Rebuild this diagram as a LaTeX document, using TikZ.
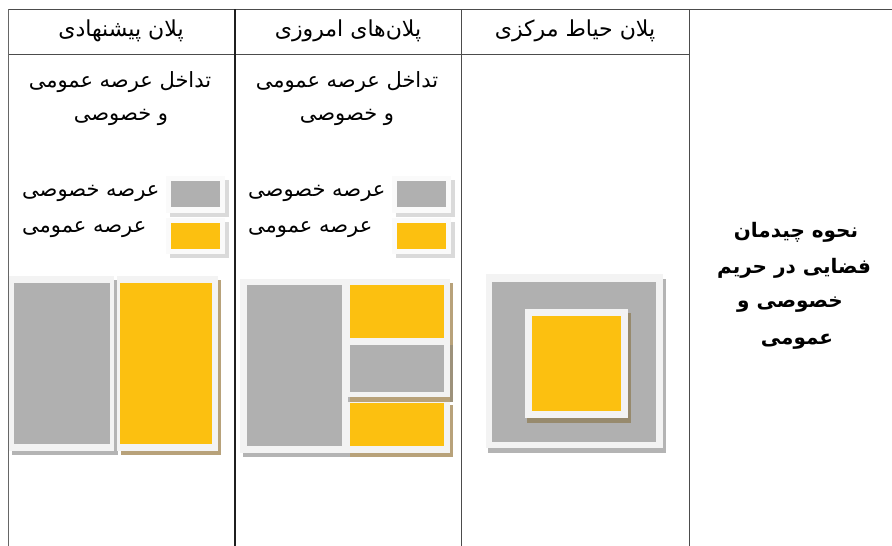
\documentclass[tikz,border=0pt]{standalone}
\usepackage{fontspec}
\TeXXeTstate=1
\newfontfamily\arabicfont[Script=Arabic]{DejaVu Sans}
\definecolor{plangray}{HTML}{B0B0B0}
\definecolor{planyellow}{HTML}{FCC010}
\definecolor{planframe}{HTML}{F3F3F3}
\definecolor{shadgray}{HTML}{B4B4B4}
\definecolor{shadbrown}{HTML}{B8A27A}
\definecolor{shaddark}{HTML}{978A6D}
\definecolor{legshad}{HTML}{DADADA}
\definecolor{legframe}{HTML}{FAFAFA}
\tikzset{
  x=1pt, y=-1pt,
  gridline/.style={draw=black!70, line width=0.9pt},
  darkline/.style={draw=black!88, line width=1.4pt},
  headtxt/.style={font=\arabicfont\fontsize{22}{25}\selectfont, inner sep=0pt},
  bodytxt/.style={font=\arabicfont\fontsize{21}{24}\selectfont, inner sep=0pt},
  boldtxt/.style={font=\arabicfont\bfseries\fontsize{20}{23}\selectfont, inner sep=0pt},
}
\begin{document}
\begin{tikzpicture}
\useasboundingbox (0,0) rectangle (892,546);
\fill[white] (0,0) rectangle (892,546);

% ---- legends column 1
\fill[legshad] (170,180) rectangle (229,217);
\fill[legframe] (166,176) rectangle (225,213);
\fill[plangray] (171,181) rectangle (220,207);
\fill[legshad] (170,222) rectangle (229,258);
\fill[legframe] (166,218) rectangle (225,254);
\fill[planyellow] (171,223) rectangle (220,249);
% ---- legends column 2
\fill[legshad] (396,180) rectangle (455,217);
\fill[legframe] (392,176) rectangle (451,213);
\fill[plangray] (397,181) rectangle (446,207);
\fill[legshad] (396,222) rectangle (455,258);
\fill[legframe] (392,218) rectangle (451,254);
\fill[planyellow] (397,223) rectangle (446,249);

% ---- plan 1 (proposed)
\fill[shadgray] (12,280) rectangle (118,455);
\fill[planframe] (9,276) rectangle (114,451);
\fill[plangray] (14,283) rectangle (110,444);
\fill[shadbrown] (121,280) rectangle (221,455);
\fill[planframe] (117,276) rectangle (218,451);
\fill[planyellow] (120,283) rectangle (212,444);

% ---- plan 2 (today)
\fill[shadgray] (243,283) rectangle (351,457);
\fill[planframe] (240,279) rectangle (348,453);
\fill[plangray] (247,285) rectangle (342,446);
\fill[shadbrown] (350,283) rectangle (453,346);
\fill[planframe] (347,279) rectangle (450,342);
\fill[planyellow] (350,285) rectangle (444,338);
\fill[shaddark!80!shadgray] (350,345) rectangle (453,402);
\fill[planframe] (347,341) rectangle (450,397);
\fill[plangray] (350,345) rectangle (444,392);
\fill[shadbrown] (350,405) rectangle (453,457);
\fill[planframe] (347,402) rectangle (450,453);
\fill[planyellow] (350,403) rectangle (444,446);
\fill[shadbrown] (350,397) rectangle (450,402);

% ---- plan 3 (central courtyard)
\fill[shadgray] (488,279) rectangle (666,453);
\fill[planframe] (486,274) rectangle (663,448);
\fill[plangray] (492,282) rectangle (656,442);
\fill[shaddark] (527,313) rectangle (631,423);
\fill[planframe] (525,309) rectangle (628,418);
\fill[planyellow] (532,316) rectangle (621,411);

% ---- grid
\draw[gridline] (8,9) -- (892,9);
\draw[gridline] (8,54) -- (689,54);
\draw[gridline, draw=black!60] (8,9) -- (8,546);
\draw[darkline] (235,9) -- (235,546);
\draw[gridline] (461,9) -- (461,546);
\draw[gridline] (689,9) -- (689,546);

% ---- headers
\node[headtxt] (h1) at (121,31) {\beginR پلان پیشنهادی\endR};
\node[headtxt] (h2) at (348,31) {\beginR پلان‌های امروزی\endR};
\node[headtxt] (h3) at (575,31) {\beginR پلان حیاط مرکزی\endR};

% ---- column texts
\node[bodytxt] (c1a) at (120,82) {\beginR تداخل عرصه عمومی\endR};
\node[bodytxt] (c1b) at (121,117) {\beginR و خصوصی\endR};
\node[bodytxt] (c2a) at (347,82) {\beginR تداخل عرصه عمومی\endR};
\node[bodytxt] (c2b) at (347,117) {\beginR و خصوصی\endR};

\node[bodytxt, anchor=west] (l1a) at (22,193) {\beginR عرصه خصوصی\endR};
\node[bodytxt, anchor=west] (l1b) at (22,230) {\beginR عرصه عمومی\endR};
\node[bodytxt, anchor=west] (l2a) at (248,193) {\beginR عرصه خصوصی\endR};
\node[bodytxt, anchor=west] (l2b) at (248,230) {\beginR عرصه عمومی\endR};

% ---- row title
\node[boldtxt] (t1) at (796,232) {\beginR نحوه چیدمان\endR};
\node[boldtxt] (t2) at (794,268) {\beginR فضایی در حریم\endR};
\node[boldtxt] (t3) at (790,305) {\beginR خصوصی و\endR};
\node[boldtxt] (t4) at (797,342) {\beginR عمومی\endR};
\end{tikzpicture}
\end{document}
